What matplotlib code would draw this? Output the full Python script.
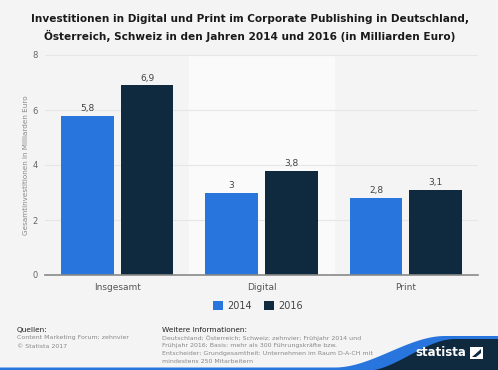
import matplotlib
matplotlib.use("Agg")
import matplotlib.pyplot as plt
import numpy as np
from matplotlib.patches import Polygon, Rectangle

categories = ["Insgesamt", "Digital", "Print"]
series_names = ["2014", "2016"]
values_2014 = [5.8, 3.0, 2.8]
values_2016 = [6.9, 3.8, 3.1]
labels_2014 = ["5,8", "3", "2,8"]
labels_2016 = ["6,9", "3,8", "3,1"]
yticks = [0, 2, 4, 6, 8]

c2014 = "#2876dd"
c2016 = "#0f2a3f"
bg = "#f4f4f4"

fig = plt.figure(figsize=(4.98, 3.70), dpi=100)
fig.patch.set_facecolor(bg)
W, H = 498, 370
ax = fig.add_axes([45 / W, 1 - 275 / H, (478 - 45) / W, (275 - 55) / H])
ax.set_facecolor(bg)

x = np.arange(len(categories))
bw = 0.366
off = 0.207
ax.axvspan(0.5, 1.5, color="#fafafa", zorder=0)
for yv in yticks[1:]:
    ax.axhline(yv, color="#e6e6e6", lw=0.8, zorder=1)
b1 = ax.bar(x - off, values_2014, bw, color=c2014, zorder=2, label=series_names[0])
b2 = ax.bar(x + off, values_2016, bw, color=c2016, zorder=2, label=series_names[1])
for rect, lab in zip(b1, labels_2014):
    ax.text(rect.get_x() + rect.get_width() / 2, rect.get_height() + 0.1, lab,
            ha="center", va="bottom", fontsize=6.5, color="#444444")
for rect, lab in zip(b2, labels_2016):
    ax.text(rect.get_x() + rect.get_width() / 2, rect.get_height() + 0.1, lab,
            ha="center", va="bottom", fontsize=6.5, color="#444444")

ax.set_xlim(-0.5, 2.5)
ax.set_ylim(0, 8)
ax.set_yticks(yticks)
ax.set_yticklabels([str(v) for v in yticks], fontsize=6, color="#666666")
ax.set_xticks(x)
ax.set_xticklabels(categories, fontsize=6.5, color="#555555")
ax.tick_params(axis="x", length=0, pad=6)
ax.tick_params(axis="y", length=0, pad=5)
for s in ["top", "right", "left"]:
    ax.spines[s].set_visible(False)
ax.spines["bottom"].set_color("#888888")
ax.spines["bottom"].set_linewidth(1.2)
ax.set_ylabel("Gesamtinvestitionen in Milliarden Euro", fontsize=5.2, color="#888888", labelpad=3)

fig.text(250 / W, 1 - 19 / H, "Investitionen in Digital und Print im Corporate Publishing in Deutschland,",
         ha="center", va="center", fontsize=7.6, fontweight="bold", color="#1a1a1a")
fig.text(250 / W, 1 - 36 / H, "Österreich, Schweiz in den Jahren 2014 und 2016 (in Milliarden Euro)",
         ha="center", va="center", fontsize=7.6, fontweight="bold", color="#1a1a1a")

leg = fig.legend(handles=[b1, b2], labels=series_names, loc="center",
                 bbox_to_anchor=(258 / W, 1 - 306 / H), ncol=2, frameon=False,
                 fontsize=7, handlelength=1.0, handleheight=1.0, columnspacing=1.2,
                 handletextpad=0.5)
for t in leg.get_texts():
    t.set_color("#444444")

fig.text(17 / W, 1 - 330 / H, "Quellen:", fontsize=5.3, color="#222222", va="center")
fig.text(17 / W, 1 - 338 / H, "Content Marketing Forum; zehnvier", fontsize=4.5, color="#888888", va="center")
fig.text(17 / W, 1 - 346 / H, "© Statista 2017", fontsize=4.5, color="#888888", va="center")
fig.text(162 / W, 1 - 330 / H, "Weitere Informationen:", fontsize=5.3, color="#222222", va="center")
info = ["Deutschland; Österreich; Schweiz; zehnvier; Frühjahr 2014 und",
        "Frühjahr 2016; Basis: mehr als 300 Führungskräfte bzw.",
        "Entscheider; Grundgesamtheit: Unternehmen im Raum D-A-CH mit",
        "mindestens 250 Mitarbeitern"]
for i, line in enumerate(info):
    fig.text(162 / W, 1 - (338 + 7.8 * i) / H, line, fontsize=4.5, color="#888888", va="center")


def smooth(t):
    t = np.clip(t, 0, 1)
    return 3 * t ** 2 - 2 * t ** 3


def fy(y):
    return 1 - y / H


# footer wave
xs = np.linspace(300, 498, 120)
ys_blue = 367.5 - 31.5 * smooth((xs - 335) / (445 - 335))
ys_dark = 371 - 32 * smooth((xs - 365) / (455 - 365))
pts_blue = [(0, fy(370)), (0, fy(367.5))] + [(xx / W, fy(yy)) for xx, yy in zip(xs, ys_blue)] + [(1, fy(370))]
fig.patches.append(Polygon(pts_blue, closed=True, transform=fig.transFigure, color="#2876dd", zorder=5, lw=0))
pts_dark = [(xx / W, fy(yy)) for xx, yy in zip(xs, ys_dark)] + [(1, 0), (300 / W, 0)]
fig.patches.append(Polygon(pts_dark, closed=True, transform=fig.transFigure, color="#0f2a3f", zorder=6, lw=0))
fig.patches.append(Rectangle((0, 0), 1, 2 / H, transform=fig.transFigure, color="#2876dd", zorder=4, lw=0))
fig.text(466 / W, fy(353), "statista", fontsize=8.5, fontweight="bold", color="white",
         ha="right", va="center", zorder=7)
fig.patches.append(Polygon([(470 / W, fy(347)), (483 / W, fy(347)), (483 / W, fy(359)), (470 / W, fy(359))],
                           closed=True, transform=fig.transFigure, color="white", zorder=7, lw=0))
fig.patches.append(Polygon([(472 / W, fy(357)), (481 / W, fy(349)), (481 / W, fy(353)), (476 / W, fy(357))],
                           closed=True, transform=fig.transFigure, color="#0f2a3f", zorder=8, lw=0))

fig.savefig("out.png", dpi=100, facecolor=bg)
